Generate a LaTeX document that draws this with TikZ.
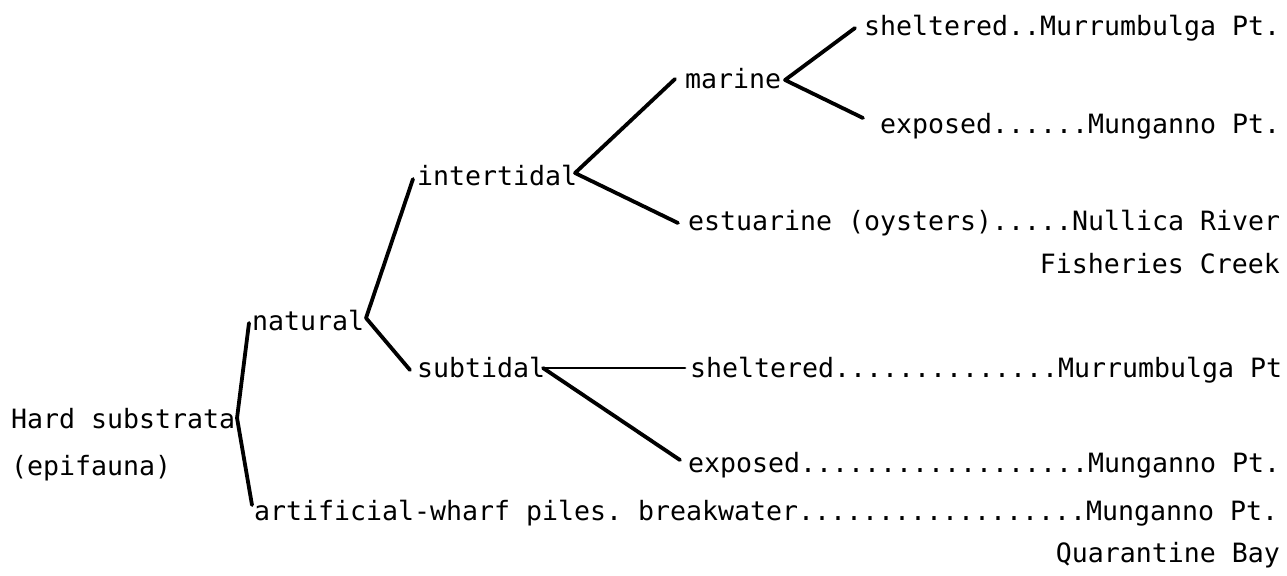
\documentclass[tikz,border=0pt]{standalone}
\usepackage{fontspec}
\newfontfamily\typew{DejaVu Sans Mono}
\usetikzlibrary{calc}
\begin{document}
\begin{tikzpicture}[x=0.5pt,y=-0.5pt,
  lbl/.style={inner sep=0pt,outer sep=0pt,anchor=base west,
    font=\typew\fontsize{13.29pt}{16pt}\selectfont\frenchspacing},
  lblr/.style={lbl,anchor=base east},
  branch/.style={line width=1.9pt,line join=round,line cap=round}]
\useasboundingbox (0,0) rectangle (1287,575);
% text nodes
\node[lbl] (hard) at (11,428) {Hard substrata};
\node[lbl] (epi) at (11,475) {(epifauna)};
\node[lbl] (natural) at (252,330) {natural};
\node[lbl] (artificial) at (254,520) {artificial-wharf piles. breakwater..................Munganno Pt.};
\node[lblr] (quarantine) at (1280,562) {Quarantine Bay};
\node[lbl] (intertidal) at (417,185) {intertidal};
\node[lbl] (subtidal) at (417,377) {subtidal};
\node[lbl] (marine) at (685,88) {marine};
\node[lbl] (estuarine) at (688,230) {estuarine (oysters).....Nullica River};
\node[lblr] (fisheries) at (1280,273) {Fisheries Creek};
\node[lbl] (mshel) at (864,35) {sheltered..Murrumbulga Pt.};
\node[lbl] (mexp) at (880,133) {exposed......Munganno Pt.};
\node[lbl] (sshel) at (690,377) {sheltered..............Murrumbulga Pt};
\node[lbl] (sexp) at (688,472) {exposed..................Munganno Pt.};
% junction coordinates
\coordinate (v0) at ($(hard.base east)+(2,-10)$);
\coordinate (v1) at ($(natural.base east)+(2,-12)$);
\coordinate (v2) at ($(intertidal.base east)+(-2,-12)$);
\coordinate (v3) at ($(marine.base east)+(4,-8)$);
\coordinate (v4) at ($(subtidal.base east)+(-2,-9)$);
% connectors
\draw[branch] ($(natural.base west)+(-3,-7)$) -- (v0) -- ($(artificial.base west)+(-2,-15)$);
\draw[branch] ($(intertidal.base west)+(-4,-6)$) -- (v1) -- ($(subtidal.base west)+(-7,-7)$);
\draw[branch] ($(marine.base west)+(-10,-9)$) -- (v2) -- ($(estuarine.base west)+(-10,-7)$);
\draw[branch] ($(mshel.base west)+(-9,-7)$) -- (v3) -- ($(mexp.base west)+(-17,-15)$);
\draw[branch] ($(sexp.base west)+(-8,-12)$) -- (v4);
\draw[branch,line width=1.4pt] (v4) -- ($(sshel.base west)+(-5,-9)$);
\end{tikzpicture}
\end{document}
